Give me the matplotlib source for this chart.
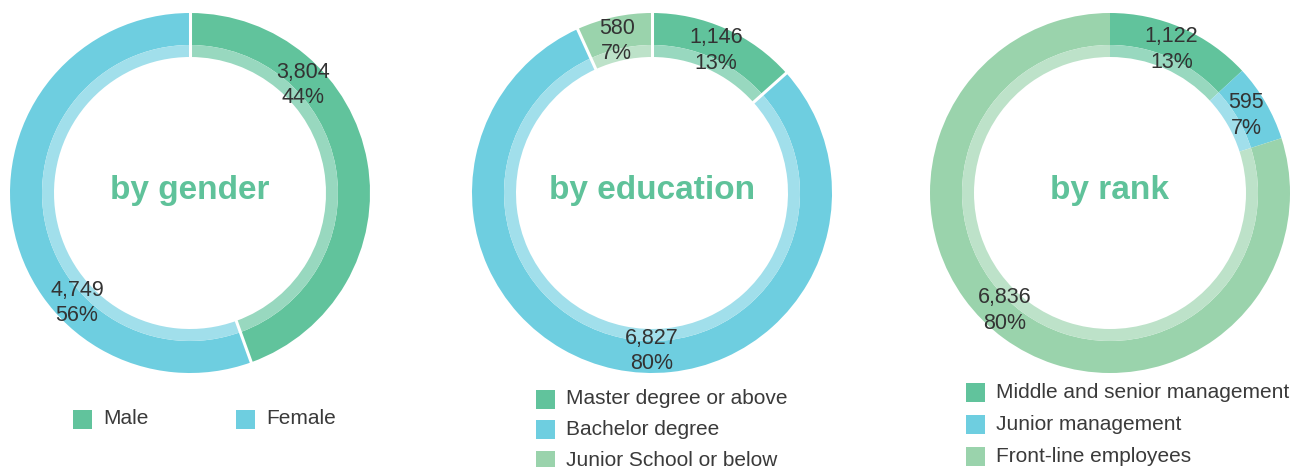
import numpy as np
import matplotlib.pyplot as plt
from matplotlib.patches import Rectangle
from matplotlib.colors import to_rgb

# Data
gender_labels = ["Male", "Female"]
gender_values = [3804, 4749]
gender_pct = ["44%", "56%"]

edu_labels = ["Master degree or above", "Bachelor degree", "Junior School or below"]
edu_values = [1146, 6827, 580]
edu_pct = ["13%", "80%", "7%"]

rank_labels = ["Middle and senior management", "Junior management", "Front-line employees"]
rank_values = [1122, 595, 6836]
rank_pct = ["13%", "7%", "80%"]

# Style
GREEN = "#61c39c"
BLUE = "#6ecee0"
LGREEN = "#9ad3ac"
TITLE_C = "#5fc29a"
TEXT_C = "#333333"
plt.rcParams['font.family'] = ['Liberation Sans', 'DejaVu Sans']

W, H = 1298, 467


def lighten(c, a=0.65):
    r = np.array(to_rgb(c))
    return tuple(r * a + (1 - a))


def ring(ax, cx, cy, values, pcts, colors, title, sep, label_angles=None):
    R, band, inner = 180, 32, 12
    ax.pie(values, colors=colors, center=(cx, cy), radius=R, startangle=90,
           counterclock=False, frame=True,
           wedgeprops=dict(width=band, edgecolor='none', linewidth=0))
    ax.pie(values, colors=[lighten(c) for c in colors], center=(cx, cy),
           radius=R - band, startangle=90, counterclock=False, frame=True,
           wedgeprops=dict(width=inner, edgecolor='none', linewidth=0))
    total = sum(values)
    cum = np.cumsum([0] + values)
    if sep:
        # white radial separators between slices
        for c in cum[:-1]:
            t = np.deg2rad(90 - c / total * 360)
            rr = np.array([R - band - inner - 1, R + 1])
            ax.plot(cx + rr * np.cos(t), cy + rr * np.sin(t), color='white',
                    lw=2.2, solid_capstyle='butt')
    for i, v in enumerate(values):
        if label_angles is not None:
            a = label_angles[i]
        else:
            a = (cum[i] + v / 2) / total * 360
        t = np.deg2rad(90 - a)
        r = 157
        ax.text(cx + r * np.cos(t), cy + r * np.sin(t) - 1, f"{v:,}\n{pcts[i]}",
                ha='center', va='center', fontsize=15.5, color=TEXT_C,
                linespacing=1.3)
    ax.text(cx, cy + 3, title, ha='center', va='center', fontsize=24,
            fontweight='bold', color=TITLE_C)


def legend_item(ax, x, y, color, label):
    s = 19
    ax.add_patch(Rectangle((x, y - s / 2), s, s, color=color, lw=0))
    ax.text(x + s + 11, y, label, ha='left', va='center', fontsize=15,
            color="#3a3a3a")


fig = plt.figure(figsize=(W / 100, H / 100), dpi=100)
ax = fig.add_axes([0, 0, 1, 1])

cy = H - 193
ring(ax, 190, cy, gender_values, gender_pct, [GREEN, BLUE], "by gender",
     True, label_angles=[46, 226])
ring(ax, 652, cy, edu_values, edu_pct, [GREEN, BLUE, LGREEN], "by education",
     True, label_angles=[24, 180, 347])
ring(ax, 1110, cy, rank_values, rank_pct, [GREEN, BLUE, LGREEN], "by rank",
     False, label_angles=[23, 60, 222])

legend_item(ax, 73, H - 419, GREEN, gender_labels[0])
legend_item(ax, 236, H - 419, BLUE, gender_labels[1])
for i, (lab, c) in enumerate(zip(edu_labels, [GREEN, BLUE, LGREEN])):
    legend_item(ax, 536, H - (399 + 30.5 * i), c, lab)
for i, (lab, c) in enumerate(zip(rank_labels, [GREEN, BLUE, LGREEN])):
    legend_item(ax, 966, H - (392 + 32 * i), c, lab)

ax.set_xlim(0, W)
ax.set_ylim(0, H)
ax.set_aspect('equal')
ax.axis('off')

fig.savefig("out.png", dpi=100, facecolor='white')
